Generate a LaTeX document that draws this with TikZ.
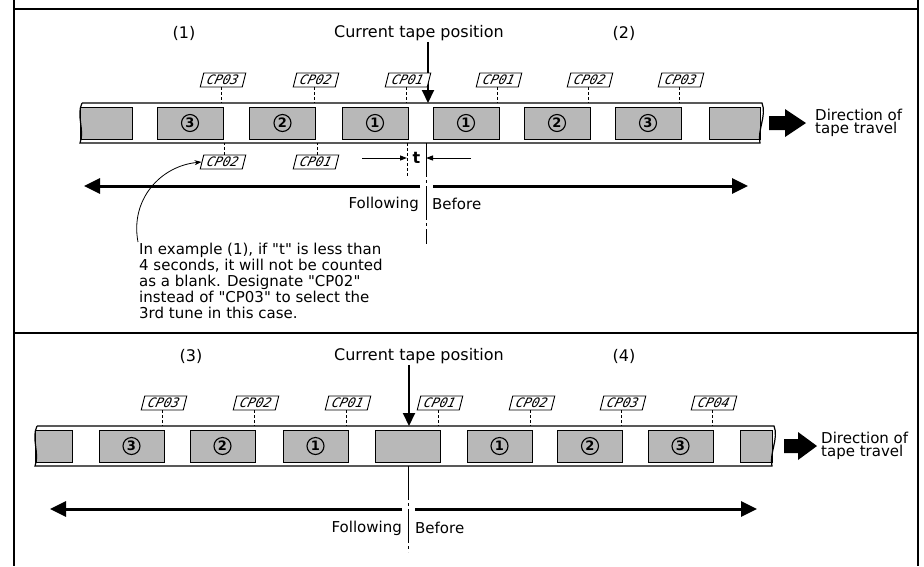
\documentclass[tikz,border=0pt]{standalone}
\usepackage{fontspec}
\setmainfont{DejaVu Sans}[Ligatures=TeXOff]
\newfontfamily\segfont{DejaVu Sans Mono}
\usetikzlibrary{arrows.meta}

\tikzset{
  txt/.style={font=\fontsize{15}{16}\selectfont, inner sep=1pt},
  head/.style={font=\fontsize{16}{17}\selectfont, inner sep=1pt},
  tape/.style={line width=1.2pt},
  blk/.style={draw, line width=0.9pt, fill=black!28, minimum height=32pt, inner sep=0pt},
  num/.style={draw, circle, line width=1.1pt, fill=black!28, inner sep=0pt, minimum size=17pt,
    font=\fontsize{13}{13}\selectfont\bfseries},
  cp/.style={draw, fill=white, line width=0.9pt, xslant=0.25, minimum width=42pt, minimum height=14pt,
    inner sep=0pt, font=\segfont\fontsize{13}{13}\selectfont\itshape},
  cpline/.style={line width=0.8pt, dash pattern=on 3pt off 2pt},
  midline/.style={line width=0.8pt, dash pattern=on 34pt off 3pt on 3pt off 3pt},
  bigarrow/.style={line width=3pt, -{Triangle[length=16pt, width=15pt]}},
  posarrow/.style={line width=2pt, -{Triangle[length=13pt, width=12pt]}},
  dimarrow/.style={line width=1pt, -{Triangle[length=7pt, width=5pt]}},
}

\begin{document}
\begin{tikzpicture}[x=1pt, y=-1pt]
    \useasboundingbox (0,0) rectangle (924,566);

    % frame
    \draw[line width=1.5pt] (14,0) -- (14,566);
    \draw[line width=1.5pt] (918,0) -- (918,566);
    \draw[line width=1.5pt] (14,9) -- (918,9);
    \draw[line width=1.5pt] (14,333) -- (918,333);

    % ---------- upper panel: cases (1) and (2) ----------
    \coordinate (t1n) at (0,103);
    \coordinate (t1s) at (0,143);

    % tape blocks
    \node[blk, minimum width=52pt] (a0) at (106,123) {};
    \foreach \x/\n [count=\i] in {190/3, 282.5/2, 375/1, 466/1, 557/2, 648/3} {
        \node[blk, minimum width=66pt] (a\i) at (\x,123) {};
        \node[num] (na\i) at (a\i) {\n};
    }
    \node[blk, minimum width=51pt] (a7) at (734.5,123) {};

    % tape edges
    \draw[tape] (82,103) -- (762,103) .. controls (767,115) and (757,131) .. (760,143) -- (80,143)
        .. controls (85,131) and (76,115) .. (82,103);

    % headings
    \node[head] (h1) at (184,33) {(1)};
    \node[head] (h2) at (419,33) {Current tape position};
    \node[head] (h3) at (624,33) {(2)};
    \coordinate (p1) at (428,103);
    \draw[posarrow] (p1 |- h2.south) -- (p1);

    % CP marks above the tape
    \foreach \x/\t [count=\i] in {223/CP03, 316/CP02, 408/CP01, 499/CP01, 590/CP02, 681/CP03} {
        \node[cp] (u\i) at (\x,80) {\t};
        \draw[cpline] (u\i.south) -- (u\i.south |- t1n);
    }

    % CP marks below the tape
    \foreach \x/\t [count=\i] in {223/CP02, 316/CP01} {
        \node[cp] (d\i) at (\x,162) {\t};
        \draw[cpline] (d\i.north) -- (d\i.north |- t1s);
    }

    % direction of travel
    \fill (769,116) -- (785,116) -- (785,109) -- (806,123) -- (785,137) -- (785,130) -- (769,130) -- cycle;
    \node[txt, anchor=west, align=left, font=\fontsize{15}{13.5}\selectfont] (dir1) at (814,123)
        {Direction of\\tape travel};

    % gap t
    \coordinate (ta) at (407,143);
    \coordinate (tb) at (426,143);
    \coordinate (tc) at (426,244);
    \draw[cpline] (ta) -- ++(0,34);
    \draw[midline] (tb) -- (tc);
    \node[txt, font=\fontsize{16}{16}\selectfont\bfseries] (tt) at (416.5,158) {t};
    \coordinate (tl) at (362,158);
    \coordinate (tr) at (471,158);
    \draw[dimarrow] (tl) -- (tl -| ta);
    \draw[dimarrow] (tr) -- (tr -| tb);

    % following / before
    \coordinate (f1) at (420,186);
    \coordinate (b1) at (433,186);
    \draw[bigarrow] (f1) -- (84,186);
    \draw[bigarrow] (b1) -- (748,186);
    \node[txt, anchor=east] (fol1) at (420,204) {Following};
    \node[txt, anchor=west] (bef1) at (431,204) {Before};

    % note
    \node[txt, anchor=north west, align=left] (note) at (138,242)
        {In example (1), if "t" is less than\\4 seconds, it will not be counted\\as a blank. Designate "CP02"\\instead of "CP03" to select the\\3rd tune in this case.};
    \draw[line width=0.8pt, -{Stealth[length=7pt, width=5pt]}] (note.north west)
        .. controls (130,200) and (160,166) .. (d1.west);

    % ---------- lower panel: cases (3) and (4) ----------
    \coordinate (t2n) at (0,426);
    \coordinate (t2s) at (0,466);

    \node[blk, minimum width=37pt] (c0) at (53.5,446) {};
    \foreach \x [count=\i] in {131.5, 222.5, 315.5, 407.5, 499.5, 590, 680.5} {
        \node[blk, minimum width=65pt] (c\i) at (\x,446) {};
    }
    \foreach \i/\n in {1/3, 2/2, 3/1, 5/1, 6/2, 7/3} {
        \node[num] (nc\i) at (c\i) {\n};
    }
    \node[blk, minimum width=32pt] (c8) at (756,446) {};

    \draw[tape] (37,426) -- (774,426) .. controls (779,438) and (769,454) .. (772,466) -- (35,466)
        .. controls (40,454) and (31,438) .. (37,426);

    \node[head] (h4) at (191,356) {(3)};
    \node[head] (h5) at (419,356) {Current tape position};
    \node[head] (h6) at (624,356) {(4)};
    \coordinate (p2) at (409,426);
    \draw[posarrow] (p2 |- h5.south) -- (p2);

    \foreach \x/\t [count=\i] in {164/CP03, 256/CP02, 348/CP01, 440/CP01, 532/CP02, 623/CP03, 714/CP04} {
        \node[cp] (v\i) at (\x,403) {\t};
        \draw[cpline] (v\i.south) -- (v\i.south |- t2n);
    }

    \fill (784,439) -- (798,439) -- (798,432) -- (817,446) -- (798,460) -- (798,453) -- (784,453) -- cycle;
    \node[txt, anchor=west, align=left, font=\fontsize{15}{13.5}\selectfont] (dir2) at (820,446)
        {Direction of\\tape travel};

    \coordinate (m2) at (408,466);
    \draw[midline] (m2) -- (408,552);
    \coordinate (f2) at (402,509);
    \coordinate (b2) at (415,509);
    \draw[bigarrow] (f2) -- (50,509);
    \draw[bigarrow] (b2) -- (757,509);
    \node[txt, anchor=east] (fol2) at (403,528) {Following};
    \node[txt, anchor=west] (bef2) at (414,528) {Before};
\end{tikzpicture}
\end{document}
